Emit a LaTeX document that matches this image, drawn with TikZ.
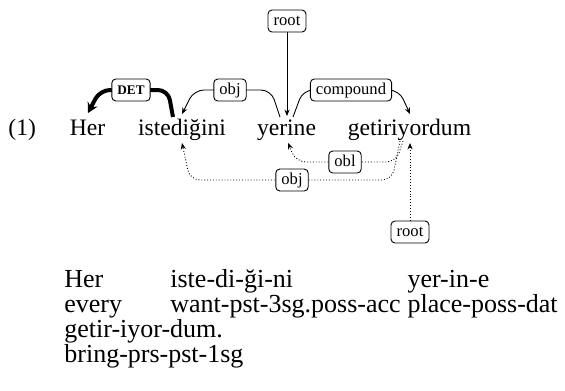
\documentclass[tikz,border=0pt]{standalone}
\usepackage{fontspec}
\setmainfont{Liberation Serif}
\usetikzlibrary{arrows.meta,positioning}

\tikzset{
  word/.style={anchor=base, inner sep=0pt, font=\fontsize{11.8}{14}\selectfont},
  gloss/.style={anchor=base west, inner sep=0pt, font=\fontsize{13}{15}\selectfont},
  deplabel/.style={draw, rounded corners=2pt, fill=white, line width=0.45pt,
    inner xsep=2.8pt, inner ysep=1.6pt, text height=6pt, text depth=1.8pt,
    font=\fontsize{8.3}{10}\selectfont},
  arc/.style={-{Stealth[length=3.2pt,width=2.6pt]}, rounded corners=5pt, line width=0.45pt},
  dotarc/.style={arc, densely dotted},
  detarc/.style={-{Stealth[length=5pt,width=5.5pt]}, rounded corners=5pt, line width=2pt},
}

\begin{document}
\begin{tikzpicture}[x=0.5pt,y=-0.5pt]
    \useasboundingbox (0,0) rectangle (565,390);
    % sentence
    \node[word, anchor=base west] (num) at (8,135) {(1)};
    \node[word] (her) at (87.5,135) {Her};
    \node[word] (ist) at (182,135) {istediğini};
    \node[word] (yer) at (286.5,135) {yerine};
    \node[word] (get) at (409.5,135) {getiriyordum};
    % arc ends above the words
    \coordinate (her-t) at (88,113);
    \coordinate (ist-t) at (173,117);
    \coordinate (ist-in) at (182,114);
    \coordinate (yer-l) at (280,117);
    \coordinate (yer-r) at (293,117);
    \coordinate (yer-t) at (287,116);
    \coordinate (get-t) at (410,114);
    % arc ends below the words
    \coordinate (ist-b) at (182,143);
    \coordinate (yer-b) at (288,143);
    \coordinate (get-b1) at (403,141);
    \coordinate (get-b2) at (400,141);
    \coordinate (get-b) at (410,143);
    % upper arcs
    \draw[detarc] (ist-t) -- (168,90) -- (100,90) -- (her-t);
    \node[deplabel, font=\fontsize{6.6}{8}\bfseries] (l-det) at (131,90) {DET};
    \draw[arc] (yer-l) -- (271,90) -- (194,90) -- (ist-in);
    \node[deplabel] (l-obj) at (230,90) {obj};
    \draw[arc] (yer-r) -- (303,90) -- (399,90) -- (get-t);
    \node[deplabel] (l-comp) at (351,90) {compound};
    \node[deplabel] (root-t) at (287,21) {root};
    \draw[arc] (root-t) -- (yer-t);
    % lower arcs
    \draw[dotarc] (get-b1) -- (396,162) -- (296,162) -- (yer-b);
    \node[deplabel] (l-obl) at (345,162) {obl};
    \draw[dotarc] (get-b2) -- (392,180) -- (190,180) -- (ist-b);
    \node[deplabel] (l-obj2) at (292,180) {obj};
    \node[deplabel] (root-b) at (410,232) {root};
    \draw[dotarc] (root-b) -- (get-b);
    % gloss
    \node[gloss] (g11) at (64,287) {Her};
    \node[gloss] (g12) at (170,287) {iste-di-ği-ni};
    \node[gloss] (g21) at (64,312) {every};
    \node[gloss] (g22) at (170,312) {want-pst-3sg.poss-acc};
    \node[gloss, xshift=3pt] (g23) at (g22.base east) {place-poss-dat};
    \node[gloss] (g13) at (g23.base west |- g12.base) {yer-in-e};
    \node[gloss] (g31) at (64,337) {getir-iyor-dum.};
    \node[gloss] (g41) at (64,362) {bring-prs-pst-1sg};
\end{tikzpicture}
\end{document}
